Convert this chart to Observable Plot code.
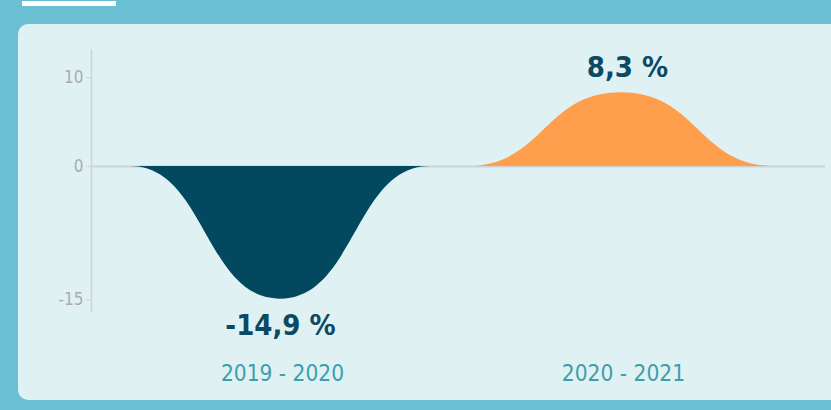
<!DOCTYPE html>
<html>
<head>
<meta charset="utf-8">
<script src="https://cdn.jsdelivr.net/npm/d3@7"></script>
<script src="https://cdn.jsdelivr.net/npm/@observablehq/plot@0.6"></script>
<style>
  html, body { margin: 0; padding: 0; }
  body { width: 831px; height: 410px; background: #6bbfd3; position: relative; overflow: hidden; font-family: "Liberation Sans Narrow", "DejaVu Sans Condensed", sans-serif; }
  #bar { position: absolute; left: 22px; top: 1px; width: 94px; height: 5px; background: #ffffff; }
  #card { position: absolute; left: 18px; top: 24px; width: 840px; height: 376px; background: #e0f1f4; border-radius: 10px; }
  #chart { position: absolute; left: 0; top: 0; }
</style>
</head>
<body>
<div id="bar"></div>
<div id="card"></div>
<div id="chart"></div>
<script>
const periods = ["2019 - 2020", "2020 - 2021"];
const changes = [-14.9, 8.3];
const valueLabels = ["-14,9 %", "8,3 %"];
const centers = [25.75, 72.2];
const halfWidths = [20.4, 21.0];
const yTicks = [10, 0, -15];
const colors = ["#02495f", "#ff9e4c"];

const shape = periods.flatMap((p, i) => [
  {period: p, x: centers[i] - halfWidths[i], y: 0},
  {period: p, x: centers[i], y: changes[i]},
  {period: p, x: centers[i] + halfWidths[i], y: 0}
]);
const labelsData = periods.map((p, i) => ({period: p, x: centers[i], y: changes[i], label: valueLabels[i]}));
const neg = labelsData.filter(d => d.y < 0);
const pos = labelsData.filter(d => d.y >= 0);

const chart = Plot.plot({
  width: 831,
  height: 410,
  marginLeft: 91,
  marginRight: 6,
  marginTop: 49,
  marginBottom: 98,
  style: {background: "transparent", fontFamily: "'Liberation Sans Narrow', 'DejaVu Sans Condensed', sans-serif", overflow: "visible"},
  x: {domain: [0, 100], axis: null},
  y: {domain: [-16.4, 13.15], axis: null},
  color: {domain: periods, range: colors},
  marks: [
    Plot.ruleX([0], {y1: -16.4, y2: 13.15, stroke: "#cfd3d3", strokeWidth: 1.5}),
    Plot.ruleY([0], {x1: 0, x2: 100, stroke: "#cfd3d3", strokeWidth: 2}),
    Plot.areaY(shape, {x: "x", y: "y", fill: "period", curve: "bump-x"}),
    Plot.axisY({ticks: yTicks, tickSize: 5, tickPadding: 3, stroke: "#cfd3d3", fill: "#ababab", fontSize: 17, label: null, tickFormat: d => String(d)}),
    Plot.text(neg, {x: "x", y: "y", text: "label", fill: "#0b4a62", fontSize: 29, fontWeight: "bold", dy: 27, lineAnchor: "middle"}),
    Plot.text(pos, {x: "x", y: "y", text: "label", fill: "#0b4a62", fontSize: 29, fontWeight: "bold", dy: -25, dx: 6, lineAnchor: "middle"}),
    Plot.text(periods, {x: (d, i) => centers[i], frameAnchor: "bottom", dy: 61, dx: 2, text: d => d, fill: "#3c9fac", fontSize: 22.5, lineAnchor: "middle"})
  ]
});
document.getElementById("chart").appendChild(chart);
</script>
</body>
</html>
